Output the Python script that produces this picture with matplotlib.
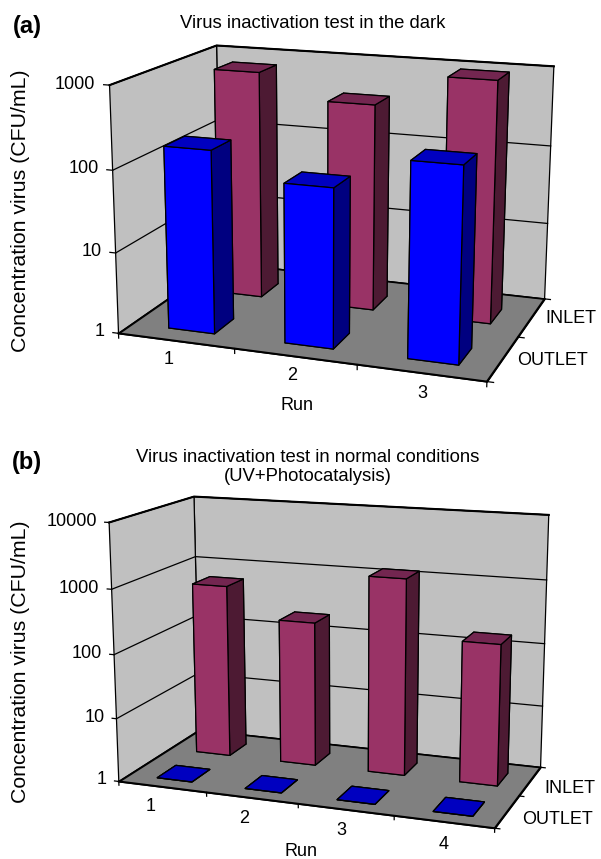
import numpy as np
import matplotlib
matplotlib.use('Agg')
import matplotlib.pyplot as plt
from mpl_toolkits.mplot3d.art3d import Poly3DCollection

plt.rcParams['font.family'] = ['Liberation Sans', 'DejaVu Sans']

runs_a = ['1', '2', '3']
inlet_a = [800, 400, 1000]
outlet_a = [175, 85, 210]
zticks_a = ['1', '10', '100', '1000']

runs_b = ['1', '2', '3', '4']
inlet_b = [600, 200, 1250, 160]
outlet_b = [1, 1, 1, 1]
zticks_b = ['1', '10', '100', '1000', '10000']

W, H = 601, 859
FS = 13


def draw_panel(rect, view, aspect, runs, inlet, outlet, zticks, ztick_dx, run_dx, run_y, cat_dx, cat_dy, dp):
    left, bottom, side = rect
    ax = fig.add_axes([left / W, bottom / H, side / W, side / H], projection='3d')
    xm, ym, zm = len(runs), 2, len(zticks) - 1
    ax.set_xlim(0, xm, view_margin=0)
    ax.set_ylim(0, ym, view_margin=0)
    ax.set_zlim(0, zm, view_margin=0)
    ax.view_init(elev=view[0], azim=view[1], roll=view[2])
    ax.set_proj_type('persp', focal_length=view[3])
    ax.set_box_aspect(aspect)
    ax.set_axis_off()
    ax.patch.set_alpha(0)
    ax.computed_zorder = False

    floor = [[(0, 0, 0), (xm, 0, 0), (xm, ym, 0), (0, ym, 0)]]
    walls = [[(0, 0, 0), (0, ym, 0), (0, ym, zm), (0, 0, zm)],
             [(0, ym, 0), (xm, ym, 0), (xm, ym, zm), (0, ym, zm)]]
    ax.add_collection3d(Poly3DCollection(walls, facecolor='#c0c0c0', edgecolor='k', linewidth=0.9, zorder=1))
    ax.add_collection3d(Poly3DCollection(floor, facecolor='#808080', edgecolor='k', linewidth=0.9, zorder=1.5))

    ln = dict(color='k', clip_on=False)
    for z in range(zm + 1):
        ax.plot([0, 0, xm], [0, ym, ym], [z, z, z], lw=0.9, zorder=2, **ln)
        ax.plot([-0.05, 0], [0, 0], [z, z], lw=0.9, zorder=2, **ln)
        ax.text(ztick_dx, 0, z, zticks[z], ha='right', va='center', fontsize=FS)
    # heavier outline along the top of the walls and the front of the floor
    ax.plot([0, 0, xm], [0, ym, ym], [zm, zm, zm], lw=1.5, zorder=2, **ln)
    ax.plot([0, xm, xm], [0, 0, ym], [0, 0, 0], lw=1.4, zorder=2, **ln)
    for i in range(xm + 1):
        ax.plot([i, i], [0, 0], [0, -0.06], lw=0.9, zorder=2, **ln)
    for j in range(ym + 1):
        ax.plot([xm, xm + 0.05], [j, j], [0, 0], lw=0.9, zorder=2, **ln)
    for i, r in enumerate(runs):
        ax.text(i + run_dx, run_y, 0, r, ha='center', va='center', fontsize=FS)
    ax.text(xm + cat_dx, 0.5 + cat_dy, 0, 'OUTLET', ha='left', va='center', fontsize=FS)
    ax.text(xm + cat_dx, 1.5 + cat_dy, 0, 'INLET', ha='left', va='center', fontsize=FS)

    wd = 0.4
    order = 10
    series = [(inlet, 1.23, ('#993366', '#732650', '#4d1a33')),
              (outlet, 0.25, ('#0000ff', '#0000c0', '#000080'))]
    for vals, y_front, (front, top, dark) in series:
        for i, v in enumerate(vals):
            h = np.log10(v)
            face = [dark, top, front, dark, dark, dark] if h > 0 else [top] * 6
            ax.bar3d(i + 0.52 - wd / 2, y_front, 0, wd, dp, h, color=face,
                     shade=False, edgecolor='k', linewidth=0.9, zorder=order)
            order += 1
    ax.set_xlim(0, xm, view_margin=0)
    ax.set_ylim(0, ym, view_margin=0)
    ax.set_zlim(0, zm, view_margin=0)


def ftext(x, y, s, **kw):
    fig.text(x / W, 1 - y / H, s, ha='center', va='center', **kw)


fig = plt.figure(figsize=(W / 100, H / 100), dpi=100)

draw_panel((83.8, 405.6, 497.4), (14.922, -70.566, -0.188, 0.567), (1, 0.666, 0.666),
           runs_a, inlet_a, outlet_a, zticks_a, -0.12, 0.62, -0.38, 0.11, 0.0, 0.38)
draw_panel((79.9, -42.5, 491.5), (13.75, -69.629, 0.109, 0.568), (1, 0.489, 0.677),
           runs_b, inlet_b, outlet_b, zticks_b, -0.14, 0.66, -0.58, 0.19, -0.18, 0.45)

ftext(27, 27, '(a)', fontsize=17, fontweight='bold')
ftext(313, 24, 'Virus inactivation test in the dark', fontsize=13.3)
ftext(21, 211, 'Concentration virus (CFU/mL)', fontsize=15.3, rotation=90)
ftext(297, 405, 'Run', fontsize=FS)
ftext(27, 463, '(b)', fontsize=17, fontweight='bold')
ftext(308, 467, 'Virus inactivation test in normal conditions\n(UV+Photocatalysis)', fontsize=13.3)
ftext(21, 662, 'Concentration virus (CFU/mL)', fontsize=15.3, rotation=90)
ftext(301, 851, 'Run', fontsize=FS)

fig.savefig('out.png', dpi=100)
